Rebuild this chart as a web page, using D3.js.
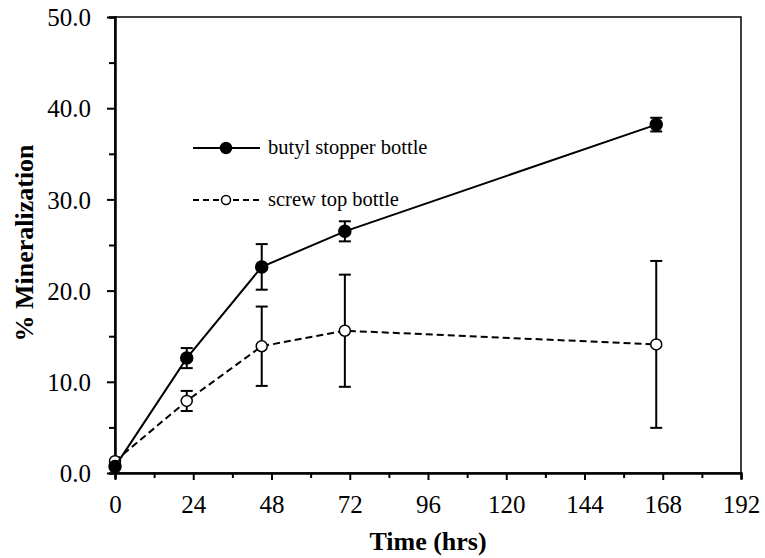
<!DOCTYPE html>
<html><head><meta charset="utf-8">
<script src="https://cdn.jsdelivr.net/npm/d3@7"></script>
<style>body{margin:0;background:#fff}svg{display:block}</style>
</head><body>
<svg id="c" width="765" height="558"></svg>
<script>
const times = [0, 22, 45, 70.5, 166];
const butylValues = [0.7, 12.6, 22.6, 26.5, 38.2];
const butylErr = [0.3, 1.1, 2.5, 1.1, 0.75];
const screwValues = [1.3, 7.9, 13.9, 15.6, 14.1];
const screwErr = [0.3, 1.1, 4.35, 6.15, 9.15];
const xTicks = [0, 24, 48, 72, 96, 120, 144, 168, 192];
const yTicks = [0, 10, 20, 30, 40, 50];
const seriesNames = ["butyl stopper bottle", "screw top bottle"];
const FONT = "'Liberation Serif', 'Times New Roman', Times, 'DejaVu Serif', serif";

const svg = d3.select("#c").attr("font-family", FONT);
const x = d3.scaleLinear().domain([0, 192]).range([115, 741]);
const y = d3.scaleLinear().domain([0, 50]).range([473, 17]);

svg.append("rect").attr("x", 115).attr("y", 17).attr("width", 626).attr("height", 456)
  .attr("fill", "none").attr("stroke", "#000").attr("stroke-width", 1.5);

const xAxis = d3.axisBottom(x).tickValues(d3.range(0, 193, 12)).tickSize(6)
  .tickFormat(d => xTicks.includes(d) ? d : "");
const gx = svg.append("g").attr("transform", "translate(0,473)").call(xAxis)
  .attr("font-family", FONT).attr("font-size", 25);
gx.select(".domain").attr("stroke-width", 2.5);
gx.selectAll(".tick line").attr("stroke-width", 2).attr("y2", d => d % 24 === 0 ? 7 : 5);
gx.selectAll(".tick text").attr("dy", 0).attr("y", 40).attr("fill", "#000");

const yAxis = d3.axisLeft(y).tickValues(d3.range(0, 50.1, 5)).tickSize(6)
  .tickFormat(d => yTicks.includes(d) ? d.toFixed(1) : "");
const gy = svg.append("g").attr("transform", "translate(115,0)").call(yAxis)
  .attr("font-family", FONT).attr("font-size", 25);
gy.select(".domain").attr("stroke-width", 2.5);
gy.selectAll(".tick line").attr("stroke-width", 2).attr("x2", d => d % 10 === 0 ? -8 : -6);
gy.selectAll(".tick text").attr("x", -24).attr("dy", "0.35em").attr("fill", "#000");

svg.append("text").attr("x", 428).attr("y", 550).attr("text-anchor", "middle")
  .attr("font-size", 26).attr("font-weight", "bold").text("Time (hrs)");
svg.append("text").attr("transform", "translate(33,243) rotate(-90)").attr("text-anchor", "middle")
  .attr("font-size", 26).attr("font-weight", "bold").text("% Mineralization");

function drawSeries(vals, errs, dashed, filled) {
  const data = times.map((t, i) => ({t, v: vals[i], e: errs[i]}));
  const line = d3.line().x(d => x(d.t)).y(d => y(d.v));
  svg.append("path").datum(data).attr("d", line).attr("fill", "none")
    .attr("stroke", "#000").attr("stroke-width", 2)
    .attr("stroke-dasharray", dashed ? "7,4" : null);
  const eb = svg.append("g").attr("stroke", "#000").attr("stroke-width", 2);
  data.forEach(d => {
    if (d.e < 0.5) return;
    eb.append("line").attr("x1", x(d.t)).attr("x2", x(d.t)).attr("y1", y(d.v + d.e)).attr("y2", y(d.v - d.e));
    [d.v + d.e, d.v - d.e].forEach(v => eb.append("line")
      .attr("x1", x(d.t) - 6).attr("x2", x(d.t) + 6).attr("y1", y(v)).attr("y2", y(v)));
  });
  svg.append("g").selectAll("circle").data(data).join("circle")
    .attr("cx", d => x(d.t)).attr("cy", d => y(d.v)).attr("r", filled ? 6 : 5.5)
    .attr("fill", filled ? "#000" : "#fff").attr("stroke", "#000").attr("stroke-width", 1.5);
}
drawSeries(screwValues, screwErr, true, false);
drawSeries(butylValues, butylErr, false, true);

const leg = [{y: 148, dashed: false, filled: true}, {y: 200, dashed: true, filled: false}];
leg.forEach((l, i) => {
  svg.append("line").attr("x1", 193).attr("x2", 260).attr("y1", l.y).attr("y2", l.y)
    .attr("stroke", "#000").attr("stroke-width", 2).attr("stroke-dasharray", l.dashed ? "6,4" : null);
  svg.append("circle").attr("cx", 226).attr("cy", l.y).attr("r", l.filled ? 5.5 : 4.5)
    .attr("fill", l.filled ? "#000" : "#fff").attr("stroke", "#000").attr("stroke-width", 1.5);
  svg.append("text").attr("x", 268).attr("y", l.y + 6).attr("font-size", 20.5).text(seriesNames[i]);
});
</script>
</body></html>
